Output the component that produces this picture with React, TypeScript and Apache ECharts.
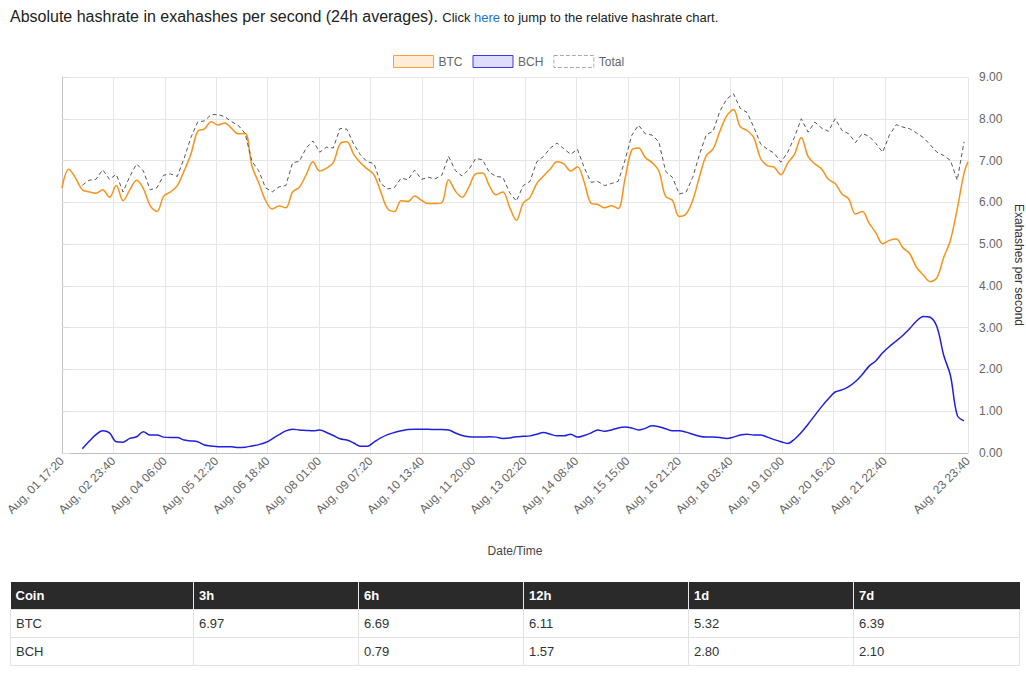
import React, { useEffect, useRef } from 'react';
import * as echarts from 'echarts';

// time axis: minutes since Aug 01 17:20
const START_UTC = Date.UTC(2018, 7, 1, 17, 20);
const STEP_MIN = 240; // one sample every 4 hours
const END_MIN = 32060; // Aug 23 23:40
const TICK_MIN = 1820; // label every 30h20m
const TICK_COUNT = 17; // regular labels shown before the final one
const MONTHS = ['Jan', 'Feb', 'Mar', 'Apr', 'May', 'Jun', 'Jul', 'Aug', 'Sep', 'Oct', 'Nov', 'Dec'];
const X_TICKS = [...Array.from({ length: TICK_COUNT }, (_, k) => k * TICK_MIN), END_MIN];

const Y_MIN = 0;
const Y_MAX = 9;
const Y_STEP = 1;

const BTC = [
  6.34, 6.79, 6.58, 6.30, 6.25, 6.22, 6.30, 6.12, 6.40, 6.04,
  6.30, 6.53, 6.33, 5.92, 5.78, 6.15, 6.25, 6.40, 6.75, 7.15,
  7.70, 7.76, 7.93, 7.85, 7.90, 7.77, 7.64, 7.65, 6.87, 6.47,
  6.05, 5.84, 5.91, 5.87, 6.25, 6.36, 6.66, 6.97, 6.75, 6.82,
  6.95, 7.40, 7.45, 7.15, 6.95, 6.80, 6.66, 6.25, 5.85, 5.78,
  6.04, 6.02, 6.15, 6.05, 5.97, 5.97, 5.99, 6.54, 6.27, 6.12,
  6.37, 6.68, 6.70, 6.40, 6.18, 6.25, 5.88, 5.57, 5.98, 6.12,
  6.45, 6.63, 6.80, 6.97, 6.92, 6.75, 6.85, 6.48, 5.98, 5.95,
  5.87, 5.92, 5.85, 6.55, 7.25, 7.30, 7.07, 6.95, 6.75, 6.14,
  6.05, 5.66, 5.72, 6.05, 6.62, 7.12, 7.28, 7.70, 8.07, 8.22,
  7.81, 7.72, 7.55, 7.05, 6.88, 6.84, 6.66, 6.94, 7.15, 7.55,
  7.10, 6.92, 6.80, 6.55, 6.45, 6.20, 6.08, 5.72, 5.78, 5.50,
  5.27, 5.01, 5.09, 5.12, 4.91, 4.77, 4.44, 4.26, 4.10, 4.20,
  4.68, 5.10, 5.85, 6.70, 6.97,
];

const BCH = [
  null, null, null, 0.10, 0.28, 0.44, 0.53, 0.48, 0.27, 0.26,
  0.35, 0.39, 0.51, 0.43, 0.43, 0.38, 0.37, 0.37, 0.31, 0.29,
  0.27, 0.19, 0.17, 0.15, 0.15, 0.15, 0.13, 0.14, 0.17, 0.20,
  0.25, 0.34, 0.44, 0.53, 0.57, 0.55, 0.54, 0.53, 0.55, 0.49,
  0.42, 0.34, 0.31, 0.24, 0.16, 0.16, 0.26, 0.36, 0.44, 0.49,
  0.53, 0.56, 0.57, 0.57, 0.57, 0.56, 0.56, 0.55, 0.48, 0.42,
  0.39, 0.38, 0.38, 0.39, 0.38, 0.35, 0.36, 0.39, 0.40, 0.41,
  0.45, 0.49, 0.45, 0.41, 0.41, 0.45, 0.38, 0.42, 0.48, 0.55,
  0.52, 0.55, 0.60, 0.62, 0.60, 0.55, 0.59, 0.65, 0.63, 0.58,
  0.53, 0.53, 0.50, 0.45, 0.40, 0.38, 0.38, 0.37, 0.35, 0.38,
  0.43, 0.45, 0.43, 0.43, 0.38, 0.32, 0.27, 0.23, 0.33, 0.49,
  0.69, 0.90, 1.11, 1.30, 1.46, 1.51, 1.59, 1.71, 1.88, 2.08,
  2.21, 2.40, 2.55, 2.68, 2.82, 2.98, 3.16, 3.27, 3.25, 3.02,
  2.34, 1.85, 0.90, 0.77,
];

const TOTAL = [
  null, null, null, 6.41, 6.53, 6.55, 6.78, 6.55, 6.67, 6.25,
  6.62, 6.92, 6.75, 6.30, 6.35, 6.65, 6.68, 6.62, 7.05, 7.55,
  7.92, 7.95, 8.10, 8.10, 8.05, 7.93, 7.84, 7.65, 6.98, 6.76,
  6.35, 6.25, 6.37, 6.40, 6.95, 6.98, 7.30, 7.47, 7.20, 7.32,
  7.30, 7.77, 7.75, 7.40, 7.14, 6.97, 6.93, 6.45, 6.32, 6.35,
  6.58, 6.54, 6.77, 6.55, 6.60, 6.56, 6.65, 7.10, 6.76, 6.63,
  6.79, 7.05, 7.02, 6.72, 6.62, 6.60, 6.23, 6.03, 6.40, 6.50,
  6.97, 7.10, 7.30, 7.42, 7.28, 7.15, 7.27, 6.83, 6.48, 6.50,
  6.40, 6.45, 6.50, 7.00, 7.60, 7.85, 7.64, 7.61, 7.45, 6.74,
  6.60, 6.20, 6.24, 6.60, 7.15, 7.62, 7.70, 8.18, 8.47, 8.60,
  8.25, 8.15, 7.80, 7.40, 7.27, 7.18, 6.96, 7.20, 7.56, 8.00,
  7.68, 7.92, 7.78, 7.70, 8.00, 7.72, 7.64, 7.43, 7.65, 7.58,
  7.41, 7.20, 7.61, 7.86, 7.80, 7.76, 7.66, 7.55, 7.38, 7.20,
  7.12, 7.00, 6.53, 7.45,
];

const TABLE_HEAD = ['Coin', '3h', '6h', '12h', '1d', '7d'];
const BTC_AVG = ['BTC', '6.97', '6.69', '6.11', '5.32', '6.39'];
const BCH_AVG = ['BCH', '', '0.79', '1.57', '2.80', '2.10'];
const COL_WIDTHS = [183, 165, 165, 165, 165, 166];

const FONT = '"Liberation Sans", Arial, Helvetica, sans-serif';

const pad = (n: number) => (n < 10 ? '0' + n : '' + n);
const fmtTime = (v: number) => {
  const d = new Date(START_UTC + v * 60000);
  return `${MONTHS[d.getUTCMonth()]}, ${pad(d.getUTCDate())} ${pad(d.getUTCHours())}:${pad(d.getUTCMinutes())}`;
};

const toPoints = (arr: (number | null)[]) =>
  arr
    .map((v, i) => (v == null ? null : [Math.min(i * STEP_MIN, END_MIN), v]))
    .filter((p) => p !== null);

export default function App() {
  const ref = useRef<HTMLDivElement>(null);

  useEffect(() => {
    const chart = echarts.init(ref.current as HTMLDivElement, null, { renderer: 'svg' });
    chart.setOption({
      animation: false,
      textStyle: { fontFamily: FONT },
      legend: {
        left: 388,
        top: 50,
        itemWidth: 40,
        itemHeight: 12,
        itemGap: 10,
        icon: 'rect',
        textStyle: { color: '#666', fontSize: 12, fontFamily: FONT },
        data: [
          { name: 'BTC', itemStyle: { color: '#feecd8', borderColor: '#f7a13c', borderWidth: 1 } },
          { name: 'BCH', itemStyle: { color: '#dedefc', borderColor: '#3a3ad8', borderWidth: 1 } },
          { name: 'Total', itemStyle: { color: '#ffffff', borderColor: '#aaaaaa', borderWidth: 1, borderType: 'dashed' } },
        ],
      },
      grid: { left: 62, right: 58, top: 77, bottom: 122, containLabel: false, outerBoundsMode: 'none' },
      xAxis: {
        type: 'value',
        min: 0,
        max: END_MIN,
        name: 'Date/Time',
        nameLocation: 'middle',
        nameGap: 92,
        nameTextStyle: { color: '#444', fontSize: 12, fontFamily: FONT },
        axisLine: { show: true, onZero: false, lineStyle: { color: '#bfbfbf', width: 1 } },
        axisTick: { show: false, customValues: X_TICKS },
        axisLabel: {
          customValues: X_TICKS,
          rotate: 45,
          margin: 6,
          color: '#666',
          fontSize: 12,
          fontFamily: FONT,
          formatter: fmtTime,
          showMinLabel: true,
          showMaxLabel: true,
          hideOverlap: false,
        },
        splitLine: { show: true, lineStyle: { color: '#e6e6e6', width: 1 } },
      },
      yAxis: [
        {
          type: 'value',
          position: 'right',
          min: Y_MIN,
          max: Y_MAX,
          interval: Y_STEP,
          name: 'Exahashes per second',
          nameLocation: 'middle',
          nameRotate: -90,
          nameGap: 33,
          nameTextStyle: { color: '#333', fontSize: 12, fontFamily: FONT },
          axisLine: { show: true, lineStyle: { color: '#d4d4d4' } },
          axisTick: { show: true, length: 8, lineStyle: { color: '#dcdcdc' } },
          axisLabel: {
            margin: 11,
            color: '#666',
            fontSize: 12,
            fontFamily: FONT,
            formatter: (v: number) => v.toFixed(2),
          },
          splitLine: { show: true, lineStyle: { color: '#e6e6e6', width: 1 } },
        },
        {
          type: 'value',
          position: 'left',
          min: Y_MIN,
          max: Y_MAX,
          interval: Y_STEP,
          axisLine: { show: true, lineStyle: { color: '#c4c4c4' } },
          axisTick: { show: false },
          axisLabel: { show: false },
          splitLine: { show: false },
        },
      ],
      series: [
        {
          name: 'BTC',
          type: 'line',
          yAxisIndex: 0,
          data: toPoints(BTC),
          smooth: 0.35,
          showSymbol: false,
          lineStyle: { color: '#f7931a', width: 1.5 },
          itemStyle: { color: '#f7931a' },
        },
        {
          name: 'BCH',
          type: 'line',
          yAxisIndex: 0,
          data: toPoints(BCH),
          smooth: 0.35,
          showSymbol: false,
          lineStyle: { color: '#2020dc', width: 1.5 },
          itemStyle: { color: '#2020dc' },
        },
        {
          name: 'Total',
          type: 'line',
          yAxisIndex: 0,
          data: toPoints(TOTAL),
          smooth: false,
          showSymbol: false,
          lineStyle: { color: '#555', width: 1, type: [4, 3] },
          itemStyle: { color: '#555' },
        },
      ],
    });
    return () => chart.dispose();
  }, []);

  const cellBase: React.CSSProperties = {
    textAlign: 'left',
    padding: '0 5px',
    height: 27,
    border: '1px solid #e2e2e2',
    boxSizing: 'border-box',
  };

  return (
    <div
      style={{
        position: 'absolute',
        left: 0,
        top: 0,
        width: 1026,
        height: 689,
        overflow: 'hidden',
        background: '#fff',
        fontFamily: FONT,
      }}
    >
      <div ref={ref} style={{ position: 'absolute', left: 0, top: 0, width: 1026, height: 575 }} />
      <div
        style={{
          position: 'absolute',
          left: 10,
          top: 8,
          fontSize: 16,
          color: '#222',
          whiteSpace: 'nowrap',
          lineHeight: '18px',
        }}
      >
        Absolute hashrate in exahashes per second (24h averages).{' '}
        <span style={{ fontSize: 13 }}>
          Click <a style={{ color: '#1f6fc5', textDecoration: 'none', cursor: 'pointer' }}>here</a> to jump to the
          relative hashrate chart.
        </span>
      </div>
      <table
        style={{
          position: 'absolute',
          left: 10,
          top: 582,
          width: 1009,
          borderCollapse: 'collapse',
          tableLayout: 'fixed',
          fontSize: 13,
          fontFamily: FONT,
          color: '#333',
        }}
      >
        <colgroup>
          {COL_WIDTHS.map((w, i) => (
            <col key={i} style={{ width: w }} />
          ))}
        </colgroup>
        <thead>
          <tr style={{ background: '#2a2a2a', color: '#fff' }}>
            {TABLE_HEAD.map((h, i) => (
              <th
                key={i}
                style={{
                  ...cellBase,
                  border: 'none',
                  borderLeft: i === 0 ? 'none' : '1px solid #e8e8e8',
                  fontWeight: 'bold',
                }}
              >
                {h}
              </th>
            ))}
          </tr>
        </thead>
        <tbody>
          {[BTC_AVG, BCH_AVG].map((row, r) => (
            <tr key={r}>
              {row.map((c, i) => (
                <td key={i} style={{ ...cellBase, height: 28 }}>
                  {c}
                </td>
              ))}
            </tr>
          ))}
        </tbody>
      </table>
    </div>
  );
}
